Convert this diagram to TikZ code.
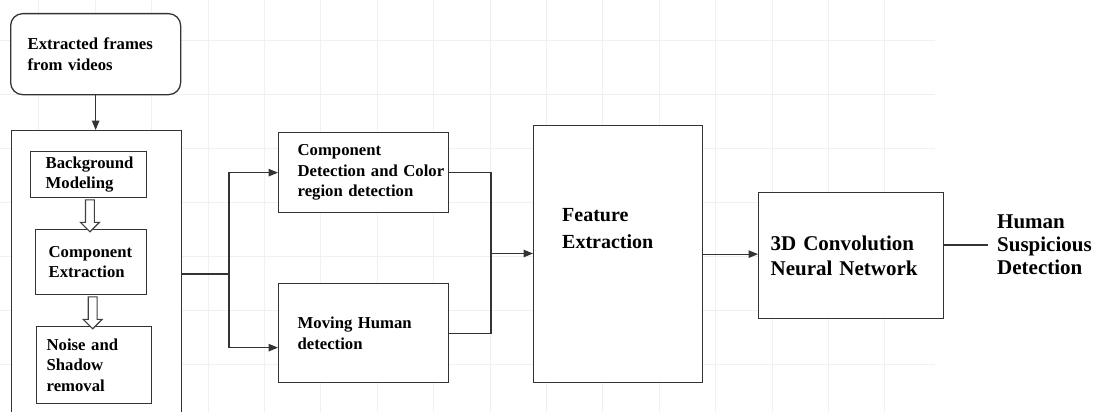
\documentclass[tikz,border=0pt]{standalone}
\usepackage{fontspec}
\setmainfont{Liberation Serif}
\usetikzlibrary{arrows.meta,shapes.arrows,calc}
\begin{document}
\begin{tikzpicture}[x=1pt,y=-1pt,
  box/.style={draw=black!80, fill=white, line width=1.3pt, anchor=north west, align=left, inner ysep=0pt, font=\bfseries\fontsize{16.7}{20.5}\selectfont},
  conn/.style={draw=black!80, line width=1.2pt},
  arr/.style={conn, -{Triangle[length=9.5pt,width=7.5pt]}},
  hollow/.style={single arrow, draw=black!75, fill=white, line width=1.1pt, shape border rotate=270, inner sep=3.8pt, minimum width=19pt, single arrow head extend=5pt, minimum height=32pt},
  gridline/.style={draw=black!6, line width=0.8pt}]
\useasboundingbox (0,0) rectangle (1095,412);
% faint background grid
\foreach \x in {38.8,95.2,151.6,208,264.4,320.8,377.2,433.6,490,546.4,602.8,659.2,715.6,772,828.4,884.8}
  \draw[gridline] (\x,0) -- (\x,412);
\foreach \y in {40,94,148,202,256,310,364}
  \draw[gridline] (0,\y) -- (935,\y);

\node[box, rounded corners=12pt, text width=136pt, inner xsep=17pt, minimum height=81pt] (top) at (10,13) {Extracted frames\\from videos};
\node[box, text width=140pt, inner xsep=15pt, minimum height=300pt] (big) at (11,130) {};
\node[box, text width=86pt, inner xsep=15pt, minimum height=46pt] (bg) at (30,151) {Background\\Modeling};
\node[box, text width=85pt, inner xsep=13pt, minimum height=65pt] (ce) at (35,229) {Component\\Extraction};
\node[box, text width=95pt, inner xsep=10pt, minimum height=77pt] (ns) at (36,326) {Noise and\\Shadow\\removal};
\node[box, text width=132pt, inner xsep=19pt, minimum height=80pt] (cd) at (278,132) {Component\\\mbox{Detection and Color}\\region detection};
\node[box, text width=132pt, inner xsep=19pt, minimum height=99pt] (mh) at (278,283) {Moving Human\\detection};
\node[box, minimum width=169pt, minimum height=257pt] (fe) at (533,125) {};
\node[anchor=west, align=left, font=\bfseries\fontsize{20}{27}\selectfont, inner sep=0pt] (fet) at (562,229) {Feature\\Extraction};
\node[box, text width=161pt, inner xsep=12pt, minimum height=126pt, font=\bfseries\fontsize{21}{25}\selectfont] (cnn) at (758,192) {3D Convolution\\Neural Network};
\node[anchor=west, align=left, font=\bfseries\fontsize{21}{23}\selectfont, inner xsep=9pt, inner ysep=0pt] (out) at (988,245) {Human\\Suspicious\\Detection};

\node[hollow] (h1) at ($(bg.south)!0.5!(ce.north)$) {};
\node[hollow] (h2) at ($(ce.south)!0.5!(ns.north)$) {};

\coordinate (j1) at (229,274);
\coordinate (j2) at (491,253.5);
\draw[arr] (top.south) -- (top.south |- big.north);
\draw[conn] (big.east |- j1) -- (j1);
\draw[arr] (j1) |- (cd.west);
\draw[arr] (j1) |- ([yshift=-14.5pt]mh.west);
\draw[conn] (cd.east) -| (j2) |- (mh.east);
\draw[arr] (j2) -- (fe.west |- j2);
\draw[arr] (fe.east) -- (cnn.west |- fe.east);
\draw[conn] (cnn.east |- out.west) -- (out.west);
\end{tikzpicture}
\end{document}
